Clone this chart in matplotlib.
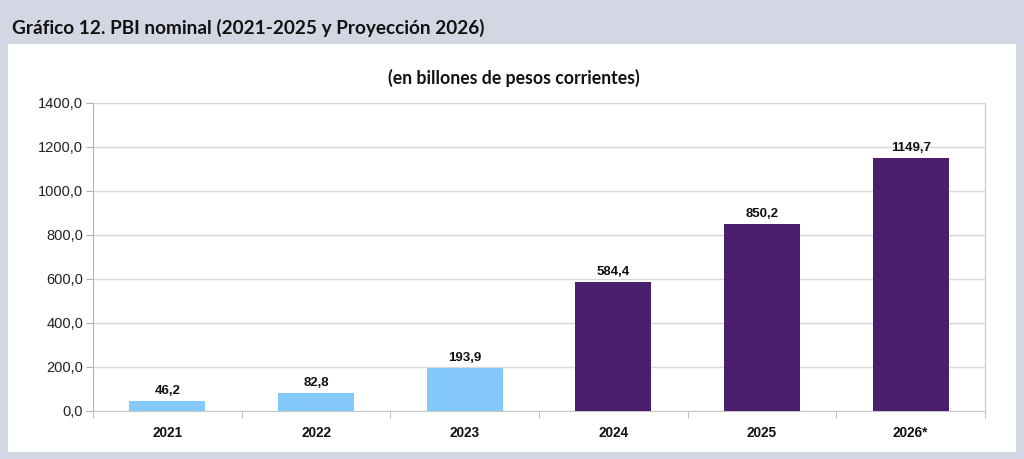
import matplotlib.pyplot as plt
import matplotlib.patches as mpatches
import numpy as np

# datos
years = ["2021", "2022", "2023", "2024", "2025", "2026*"]
pbi = [46.2, 82.8, 193.9, 584.4, 850.2, 1149.7]
historic = [True, True, True, False, False, False]
yticks = [0, 200, 400, 600, 800, 1000, 1200, 1400]

light_blue = "#85c9fb"
purple = "#4b1f6d"
band = "#d3d7e3"
grid = "#d9d9d9"

W, H = 1024, 459
fig = plt.figure(figsize=(W / 100, H / 100), dpi=100)
fig.patch.set_facecolor(band)

# panel blanco
fig.patches.append(mpatches.Rectangle((8 / W, (H - 452) / H), 1008 / W, (452 - 44) / H,
                                      transform=fig.transFigure, facecolor="white",
                                      edgecolor="none", zorder=-5))

fig.text(12 / W, 1 - 28 / H, "Gráfico 12. PBI nominal (2021-2025 y Proyección 2026)",
         fontsize=13.7, fontweight="bold", family="Lato", va="center", ha="left", color="#111111")
fig.text(514 / W, 1 - 78 / H, "(en billones de pesos corrientes)",
         fontsize=12.7, fontweight="bold", family="Lato", va="center", ha="center", color="#111111")

ax = fig.add_axes([93 / W, (H - 411) / H, 892 / W, (411 - 103) / H])
ax.set_zorder(2)
x = np.arange(len(years))
colors = [light_blue if h else purple for h in historic]
bars = ax.bar(x, pbi, width=0.51, color=colors, zorder=3)

for xi, v in zip(x, pbi):
    ax.text(xi, v + 18, f"{v:.1f}".replace(".", ","), ha="center", va="bottom",
            fontsize=9.5, fontweight="bold", family="Liberation Sans", color="#111111")

ax.set_xlim(-0.5, len(years) - 0.5)
ax.set_ylim(0, 1400)
ax.set_yticks(yticks)
ax.set_yticklabels([f"{t:.1f}".replace(".", ",") for t in yticks],
                   fontsize=10.5, family="Liberation Sans", color="#222222")
ax.set_xticks(x)
ax.set_xticklabels(years, fontsize=9.8, fontweight="bold", family="Liberation Sans", color="#111111")
ax.set_xticks(np.arange(-0.5, len(years)), minor=True)
ax.tick_params(axis="x", which="major", length=0, pad=11)
ax.tick_params(axis="x", which="minor", length=5, color="#b3b3b3", direction="out")
ax.tick_params(axis="y", length=5, color="#b3b3b3", pad=2)
ax.grid(axis="y", color=grid, linewidth=1, zorder=0)
ax.spines["top"].set_visible(False)
for s in ["left", "bottom", "right"]:
    ax.spines[s].set_color("#c8c8c8")
ax.spines["left"].set_color("#b3b3b3")
ax.set_facecolor("white")

fig.savefig("out.png", dpi=100, facecolor=fig.get_facecolor())
